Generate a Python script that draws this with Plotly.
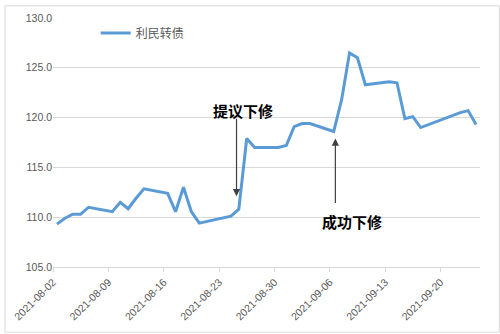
import plotly.graph_objects as go

dates = [
    "2021-08-02", "2021-08-03", "2021-08-04", "2021-08-05", "2021-08-06",
    "2021-08-09", "2021-08-10", "2021-08-11", "2021-08-12", "2021-08-13",
    "2021-08-16", "2021-08-17", "2021-08-18", "2021-08-19", "2021-08-20",
    "2021-08-23", "2021-08-24", "2021-08-25", "2021-08-26", "2021-08-27",
    "2021-08-30", "2021-08-31", "2021-09-01", "2021-09-02", "2021-09-03",
    "2021-09-06", "2021-09-07", "2021-09-08", "2021-09-09", "2021-09-10",
    "2021-09-13", "2021-09-14", "2021-09-15", "2021-09-16", "2021-09-17",
    "2021-09-22", "2021-09-23", "2021-09-24",
]
values = [
    109.3, 109.9, 110.3, 110.3, 111.0,
    110.55, 111.5, 110.85, 111.9, 112.85,
    112.4, 110.55, 113.0, 110.55, 109.4,
    109.9, 110.1, 110.8, 117.9, 117.0,
    117.0, 117.2, 119.1, 119.4, 119.4,
    118.6, 121.8, 126.5, 126.0, 123.3,
    123.6, 123.5, 119.9, 120.1, 119.0,
    120.5, 120.7, 119.3,
]
series_name = "利民转债"
y_ticks = [105, 110, 115, 120, 125, 130]

CJK = "Noto Sans CJK SC"
LAT = "Liberation Sans"

fig = go.Figure()
fig.add_trace(go.Scatter(
    x=dates, y=values, name=series_name, mode="lines",
    xperiod=86400000, xperiodalignment="middle",
    line=dict(color="#5b9bd5", width=3),
))

fig.update_layout(
    width=500, height=334,
    margin=dict(l=49, r=20, t=13, b=67),
    paper_bgcolor="white", plot_bgcolor="white",
    font=dict(family=LAT, size=10.5, color="#595959"),
    showlegend=True,
    legend=dict(
        x=0.10, y=0.94, xanchor="left", yanchor="middle",
        bgcolor="rgba(0,0,0,0)",
        font=dict(family=CJK, size=12, color="#595959"),
    ),
    xaxis=dict(
        type="date",
        range=["2021-08-02", "2021-09-25"],
        tick0="2021-08-02", dtick=7 * 86400000,
        tickformat="%Y-%m-%d", tickangle=-45,
        showgrid=False, showline=True, linecolor="#d9d9d9", linewidth=1,
        ticks="outside", ticklen=4, tickcolor="#d9d9d9",
        tickfont=dict(family=LAT, size=10.5, color="#595959"),
    ),
    yaxis=dict(
        range=[105, 130], tickvals=y_ticks, tickformat=".1f",
        showgrid=True, gridcolor="#d9d9d9", gridwidth=1,
        zeroline=False, showline=False, ticks="",
        tickfont=dict(family=LAT, size=10.5, color="#595959"),
    ),
)

# arrows and labels
fig.add_annotation(x="2021-08-25 05:00", y=112.1, xref="x", yref="y",
                   ax=0, ay=-79, text="", showarrow=True,
                   arrowhead=2, arrowsize=1.2, arrowwidth=1.2, arrowcolor="#404040")
fig.add_annotation(x="2021-08-26 02:00", y=120.7, xref="x", yref="y",
                   text="<b>提议下修</b>", showarrow=False,
                   font=dict(family=CJK, size=15, color="black"))
fig.add_annotation(x="2021-09-06 17:00", y=117.9, xref="x", yref="y",
                   ax=0, ay=66, text="", showarrow=True,
                   arrowhead=2, arrowsize=1.2, arrowwidth=1.2, arrowcolor="#404040")
fig.add_annotation(x="2021-09-08 20:00", y=109.6, xref="x", yref="y",
                   text="<b>成功下修</b>", showarrow=False,
                   font=dict(family=CJK, size=15, color="black"))

# chart border
fig.add_shape(type="rect", xref="paper", yref="paper",
              x0=-48.5 / 431, x1=450.5 / 431, y0=-66.5 / 254, y1=266.5 / 254,
              line=dict(color="#d9d9d9", width=1), fillcolor="rgba(0,0,0,0)",
              layer="below")

fig.write_html("out.html")
